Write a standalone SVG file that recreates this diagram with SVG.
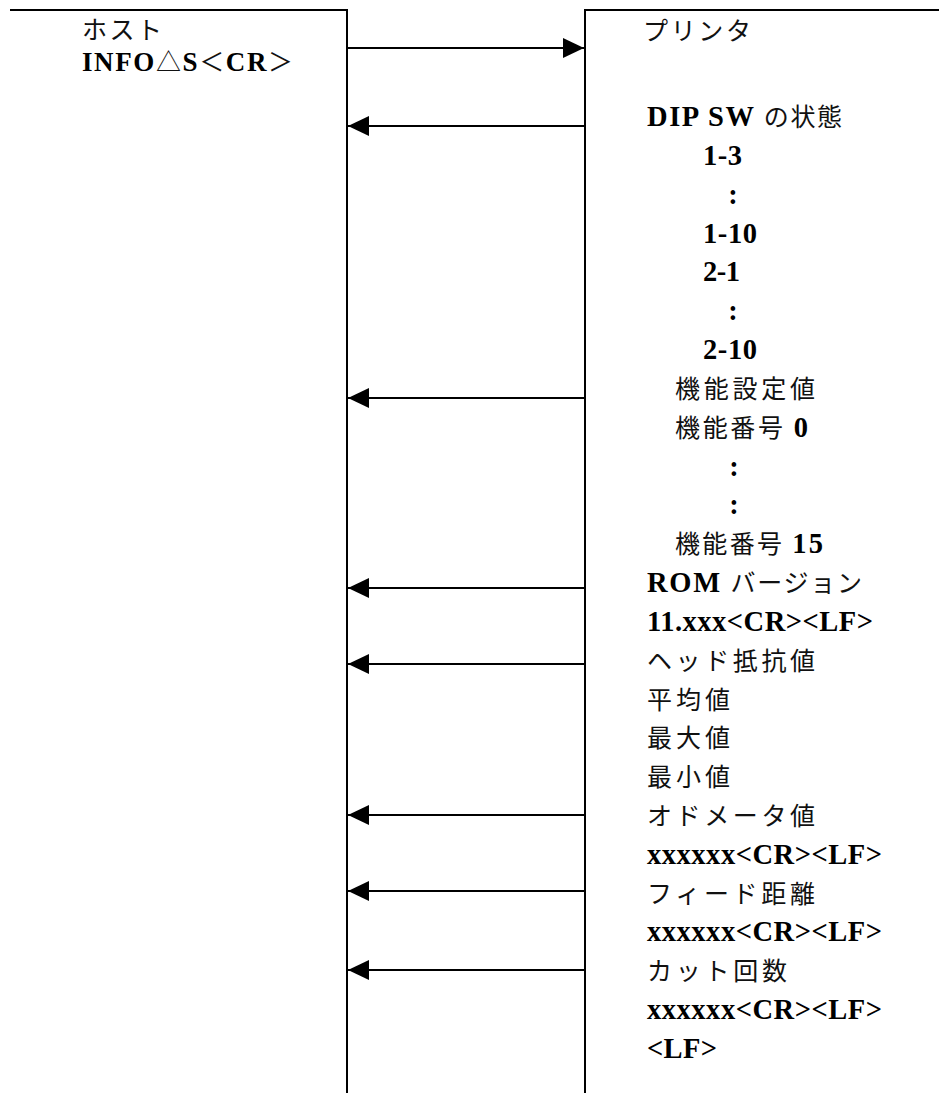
<svg xmlns="http://www.w3.org/2000/svg" width="939" height="1093" viewBox="0 0 939 1093">
<style>
.ln{stroke:#000;stroke-width:2;fill:none}
.ar{stroke:#000;stroke-width:2;fill:none;marker-end:url(#ah)}
text{font-family:"Liberation Serif","Noto Sans CJK JP",serif;fill:#000;font-size:28.5px}
.b{font-weight:bold}
.j{font-family:"Noto Sans CJK JP",sans-serif;font-size:25px;font-weight:normal;fill:#111}
</style>
<defs>
<marker id="ah" markerUnits="userSpaceOnUse" markerWidth="22" markerHeight="20" refX="21" refY="10" orient="auto">
<path d="M0,0 L21,10 L0,20 Z" fill="#000"/>
</marker>
</defs>
<rect width="939" height="1093" fill="#fff"/>
<g id="host">
<path class="ln" d="M10,10 H347 V1093"/>
<text x="82" y="39" textLength="80" lengthAdjust="spacing"><tspan class="j">ホスト</tspan></text>
<text x="82" y="71" class="b" style="font-size:27px" textLength="211" lengthAdjust="spacing">INFO<tspan class="j">△</tspan>S<tspan class="j">＜</tspan>CR<tspan class="j">＞</tspan></text>
</g>
<g id="printer">
<path class="ln" d="M939,10 H585 V1093"/>
<text x="643" y="40" textLength="108" lengthAdjust="spacing"><tspan class="j">プリンタ</tspan></text>
<text x="647" y="126" textLength="195" lengthAdjust="spacing"><tspan class="b">DIP SW </tspan><tspan class="j">の状態</tspan></text>
<text x="703" y="165" class="b" textLength="39" lengthAdjust="spacing">1-3</text>
<text x="733" y="204" class="b" text-anchor="middle">:</text>
<text x="703" y="242.5" class="b" textLength="54" lengthAdjust="spacing">1-10</text>
<text x="703" y="281.3" class="b" textLength="37" lengthAdjust="spacing">2-1</text>
<text x="733" y="320" class="b" text-anchor="middle">:</text>
<text x="703" y="359" class="b" textLength="54" lengthAdjust="spacing">2-10</text>
<text x="675" y="398" textLength="140" lengthAdjust="spacing"><tspan class="j">機能設定値</tspan></text>
<text x="675" y="436.6" textLength="133" lengthAdjust="spacing"><tspan class="j">機能番号 </tspan><tspan class="b">0</tspan></text>
<text x="734" y="475.5" class="b" text-anchor="middle">:</text>
<text x="734" y="514.3" class="b" text-anchor="middle">:</text>
<text x="675" y="553" textLength="148" lengthAdjust="spacing"><tspan class="j">機能番号 </tspan><tspan class="b">15</tspan></text>
<text x="647" y="592" textLength="215" lengthAdjust="spacing"><tspan class="b">ROM </tspan><tspan class="j">バージョン</tspan></text>
<text x="647" y="630.8" class="b" textLength="226" lengthAdjust="spacing">11.xxx&lt;CR&gt;&lt;LF&gt;</text>
<text x="647" y="669.6" textLength="168" lengthAdjust="spacing"><tspan class="j">ヘッド抵抗値</tspan></text>
<text x="647" y="708.5" textLength="83" lengthAdjust="spacing"><tspan class="j">平均値</tspan></text>
<text x="647" y="747.3" textLength="83" lengthAdjust="spacing"><tspan class="j">最大値</tspan></text>
<text x="647" y="786.1" textLength="83" lengthAdjust="spacing"><tspan class="j">最小値</tspan></text>
<text x="647" y="825" textLength="168" lengthAdjust="spacing"><tspan class="j">オドメータ値</tspan></text>
<text x="647" y="863.8" class="b" textLength="235" lengthAdjust="spacing">xxxxxx&lt;CR&gt;&lt;LF&gt;</text>
<text x="647" y="902.6" textLength="168" lengthAdjust="spacing"><tspan class="j">フィード距離</tspan></text>
<text x="647" y="941.4" class="b" textLength="235" lengthAdjust="spacing">xxxxxx&lt;CR&gt;&lt;LF&gt;</text>
<text x="647" y="980.3" textLength="140" lengthAdjust="spacing"><tspan class="j">カット回数</tspan></text>
<text x="647" y="1019.1" class="b" textLength="235" lengthAdjust="spacing">xxxxxx&lt;CR&gt;&lt;LF&gt;</text>
<text x="647" y="1058" class="b" textLength="70" lengthAdjust="spacing">&lt;LF&gt;</text>
</g>
<g id="connectors">
<line class="ar" x1="347" y1="48" x2="584" y2="48"/>
<line class="ar" x1="585" y1="126" x2="348" y2="126"/>
<line class="ar" x1="585" y1="398" x2="348" y2="398"/>
<line class="ar" x1="585" y1="588" x2="348" y2="588"/>
<line class="ar" x1="585" y1="664" x2="348" y2="664"/>
<line class="ar" x1="585" y1="815" x2="348" y2="815"/>
<line class="ar" x1="585" y1="891" x2="348" y2="891"/>
<line class="ar" x1="585" y1="970" x2="348" y2="970"/>
</g>
</svg>
